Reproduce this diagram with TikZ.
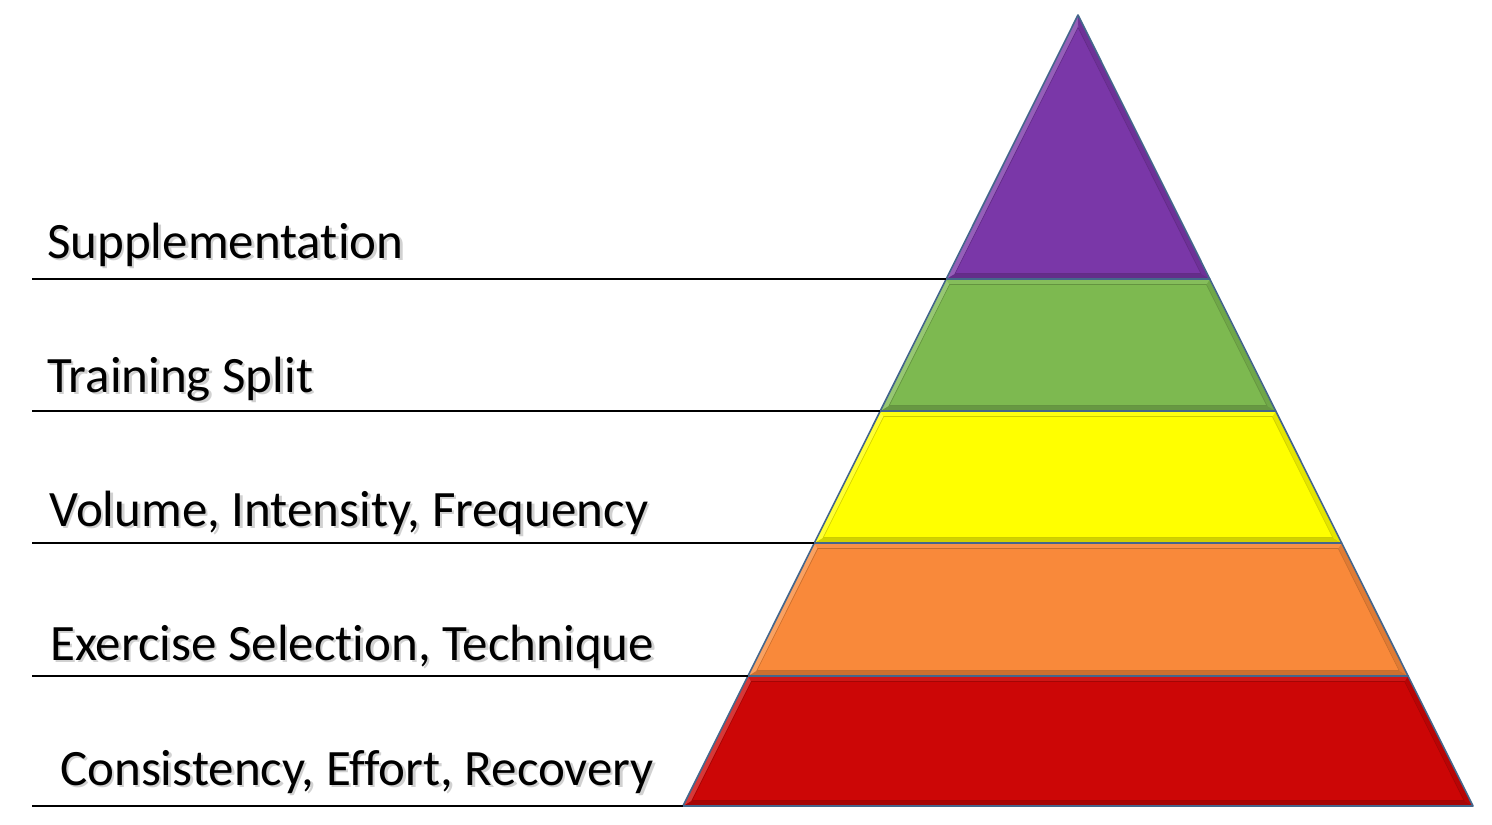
\documentclass[tikz,border=0pt]{standalone}
\usepackage{fontspec}
\setmainfont[Ligatures={NoCommon,NoDiscretionary}]{Carlito}
\definecolor{cpurple}{HTML}{7A37A8}
\definecolor{cgreen}{HTML}{7DB950}
\definecolor{cyellow}{HTML}{FFFF00}
\definecolor{corange}{HTML}{F9893A}
\definecolor{cred}{HTML}{CC0606}
\definecolor{bordercol}{HTML}{44668C}
\tikzset{
  label text/.style={anchor=base west, inner sep=0pt, font=\fontsize{51}{60}\selectfont, text=black},
  shadow text/.style={label text, text=black!18},
  guide/.style={line width=2.8pt, black},
  layer edge/.style={draw=bordercol, line width=1.6pt, line join=round},
}
% #1 top y, #2 bottom y, #3 colour, #4 name, #5 inner top y
\newcommand\pyrlayer[5]{%
  \pgfmathsetmacro\pyrHT{0.49937*(#1-15)}%
  \pgfmathsetmacro\pyrHB{0.49937*(#2-15)}%
  \pgfmathsetmacro\pyrHIT{0.49937*(#5-15)-6.2}%
  \pgfmathsetmacro\pyrHIB{0.49937*(#2-20.5)-6.2}%
  \pgfmathsetmacro\pyrYIT{#5}%
  \pgfmathsetmacro\pyrYIB{#2-5.5}%
  \coordinate (#4-tl) at ({1078-\pyrHT},#1);
  \coordinate (#4-tr) at ({1078+\pyrHT},#1);
  \coordinate (#4-br) at ({1078+\pyrHB},#2);
  \coordinate (#4-bl) at ({1078-\pyrHB},#2);
  \coordinate (#4-itl) at ({1078-\pyrHIT},\pyrYIT);
  \coordinate (#4-itr) at ({1078+\pyrHIT},\pyrYIT);
  \coordinate (#4-ibr) at ({1078+\pyrHIB},\pyrYIB);
  \coordinate (#4-ibl) at ({1078-\pyrHIB},\pyrYIB);
  \fill[#3] (#4-tl) -- (#4-tr) -- (#4-br) -- (#4-bl) -- cycle;
  \fill[#3!82!black] (#4-ibl) -- (#4-ibr) -- (#4-br) -- (#4-bl) -- cycle;
  \fill[#3!90!black] (#4-itr) -- (#4-tr) -- (#4-br) -- (#4-ibr) -- cycle;
  \fill[#3!80!white] (#4-tl) -- (#4-itl) -- (#4-ibl) -- (#4-bl) -- cycle;
  \fill[#3!94!white] (#4-tl) -- (#4-tr) -- (#4-itr) -- (#4-itl) -- cycle;
  \fill[#3] (#4-itl) -- (#4-itr) -- (#4-ibr) -- (#4-ibl) -- cycle;
  \draw[#3!80!black, line width=0.6pt] (#4-itl) -- (#4-itr) -- (#4-ibr) -- (#4-ibl) -- cycle;
  \draw[layer edge] (#4-tl) -- (#4-tr) -- (#4-br) -- (#4-bl) -- cycle;
}
\begin{document}
\begin{tikzpicture}[x=1pt, y=-1pt]
\useasboundingbox (0,0) rectangle (1492,825);
\fill[white] (0,0) rectangle (1492,825);

\pyrlayer{676}{806}{cred}{l1}{681.5}
\pyrlayer{543}{676}{corange}{l2}{548.5}
\pyrlayer{411}{543}{cyellow}{l3}{416.5}
\pyrlayer{279}{411}{cgreen}{l4}{284.5}
\pyrlayer{15}{279}{cpurple}{l5}{28}

\coordinate (g1) at (32,806);
\coordinate (g2) at (32,676);
\coordinate (g3) at (32,543);
\coordinate (g4) at (32,411);
\coordinate (g5) at (32,279);
\draw[guide] (g1) -- (l1-bl);
\draw[guide] (g2) -- (l1-tl);
\draw[guide] (g3) -- (l2-tl);
\draw[guide] (g4) -- (l3-tl);
\draw[guide] (g5) -- (l4-tl);

\node[shadow text] at (49.5,260.5) {Supplementation};
\node[label text] (t5) at (47,258) {Supplementation};
\node[shadow text] at (49.5,394.5) {Training Split};
\node[label text] (t4) at (47,392) {Training Split};
\node[shadow text] at (51.5,528.5) {Volume, Intensity, Frequency};
\node[label text] (t3) at (49,526) {Volume, Intensity, Frequency};
\node[shadow text] at (52.5,662.5) {Exercise Selection, Technique};
\node[label text] (t2) at (50,660) {Exercise Selection, Technique};
\node[shadow text] at (62.5,787.5) {Consistency, Effort, Recovery};
\node[label text] (t1) at (60,785) {Consistency, Effort, Recovery};
\end{tikzpicture}
\end{document}
